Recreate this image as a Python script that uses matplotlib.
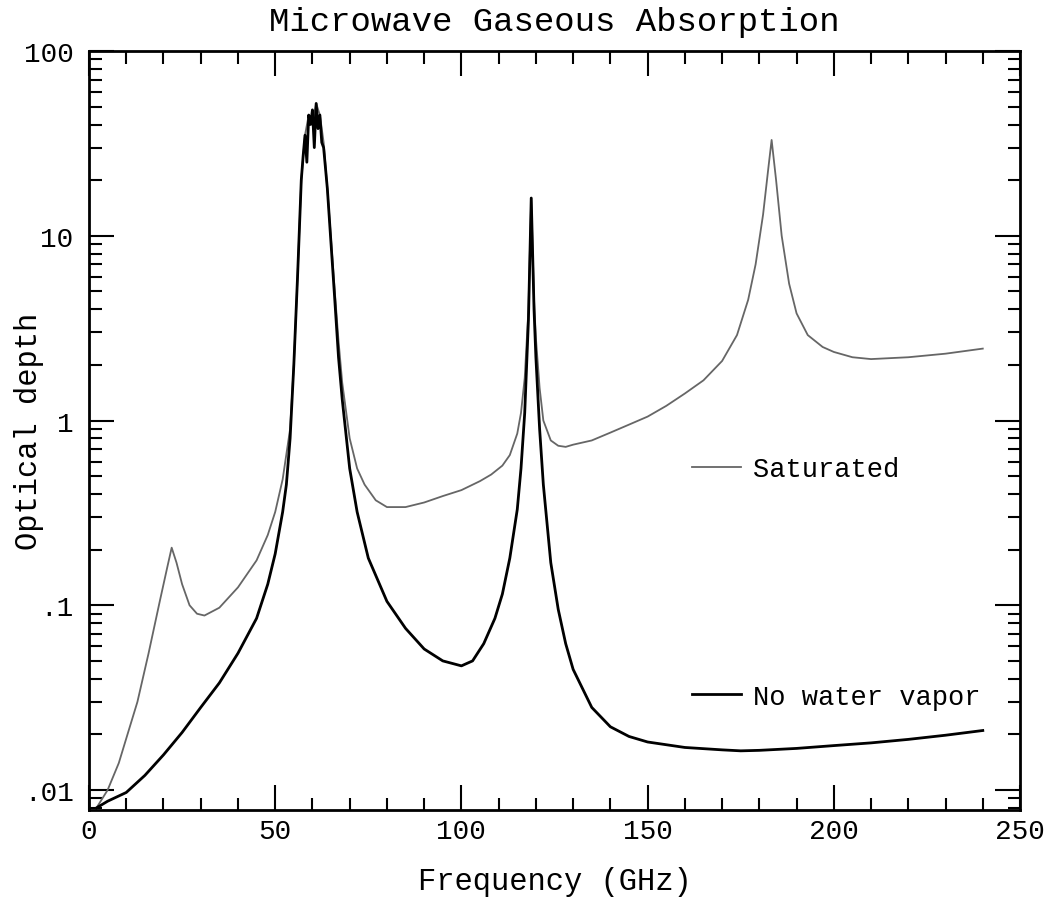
import numpy as np
import matplotlib
matplotlib.use("Agg")
from matplotlib import pyplot as plt
from matplotlib.ticker import LogLocator, FixedLocator, MultipleLocator, FuncFormatter

plt.rcParams['font.family'] = ['Liberation Mono', 'DejaVu Sans Mono']

# no water vapor (oxygen only)
dry_freq = [2, 5, 10, 15, 20, 25, 30, 35, 40, 45, 48, 50, 52, 53, 54, 55, 56, 57,
            57.5, 58, 58.5, 59, 59.5, 60, 60.5, 61, 61.5, 62, 62.5, 63, 64, 65, 66,
            67, 68, 70, 72, 75, 80, 85, 90, 95, 100, 103, 106, 109, 111, 113, 115,
            116, 117, 118, 118.75, 119.5, 120, 121, 122, 124, 126, 128, 130, 135,
            140, 145, 150, 160, 170, 175, 180, 190, 200, 210, 220, 230, 240]
dry_tau = [0.0080, 0.0087, 0.0097, 0.0120, 0.0155, 0.0205, 0.028, 0.038, 0.055,
           0.085, 0.13, 0.19, 0.32, 0.45, 0.8, 2.0, 6.0, 20,
           27, 35, 25, 45, 40, 48, 30, 52, 38, 45, 32, 30, 18, 9, 4.5,
           2.2, 1.3, 0.55, 0.32, 0.18, 0.105, 0.075, 0.058, 0.05, 0.047, 0.05,
           0.062, 0.085, 0.115, 0.18, 0.33, 0.55, 1.1, 3.5, 16, 4.0, 2.2, 0.9,
           0.45, 0.17, 0.095, 0.062, 0.045, 0.028, 0.022, 0.0195, 0.0182, 0.0170,
           0.0165, 0.0163, 0.0164, 0.0168, 0.0174, 0.0180, 0.0188, 0.0198, 0.0210]

# saturated atmosphere
wet_freq = [2, 5, 8, 10, 13, 16, 19, 21, 22.2, 23.5, 25, 27, 29, 31, 35, 40, 45,
            48, 50, 52, 54, 55, 56, 57, 58, 59, 60, 61, 62, 63, 64, 65, 66, 67,
            68, 70, 72, 74, 77, 80, 85, 90, 95, 100, 105, 108, 111, 113, 115, 116,
            117, 118, 118.75, 119.5, 120, 121, 122, 124, 126, 128, 130, 135, 140,
            145, 150, 155, 160, 165, 170, 174, 177, 179, 181, 182.5, 183.3, 184.5,
            186, 188, 190, 193, 197, 200, 205, 210, 220, 230, 240]
wet_tau = [0.0080, 0.0100, 0.014, 0.019, 0.030, 0.055, 0.105, 0.16, 0.205, 0.17,
           0.13, 0.10, 0.09, 0.088, 0.097, 0.125, 0.175, 0.24, 0.32, 0.48, 0.9,
           2.0, 6.0, 20, 35, 45, 40, 52, 45, 32, 18, 9.5, 5.0, 2.7,
           1.6, 0.8, 0.55, 0.45, 0.37, 0.34, 0.34, 0.36, 0.39, 0.42, 0.47, 0.51,
           0.57, 0.65, 0.85, 1.1, 1.7, 4.0, 16, 4.5, 2.8, 1.5, 1.0, 0.78, 0.73,
           0.72, 0.74, 0.78, 0.86, 0.95, 1.05, 1.2, 1.4, 1.65, 2.1, 2.9, 4.5, 7.0,
           13, 24, 33, 20, 10, 5.5, 3.8, 2.9, 2.5, 2.35, 2.2, 2.15, 2.2, 2.3, 2.45]

fig = plt.figure(figsize=(10.52, 9.04), dpi=100)
ax = fig.add_axes([0.0846, 0.1029, 0.8850, 0.8396])

wet_line, = ax.plot(wet_freq, wet_tau, color='#666666', lw=1.3, label='Saturated')
dry_line, = ax.plot(dry_freq, dry_tau, color='black', lw=2.0, label='No water vapor')

ax.set_yscale('log')
ax.set_xlim(0, 250)
ax.set_ylim(0.0078, 100)

ax.xaxis.set_major_locator(MultipleLocator(50))
ax.xaxis.set_minor_locator(MultipleLocator(10))
ax.yaxis.set_major_locator(FixedLocator([0.01, 0.1, 1, 10, 100]))
ax.yaxis.set_minor_locator(LogLocator(base=10, subs=np.arange(2, 10)))


def ylab(v, pos):
    return {0.01: '.01', 0.1: '.1', 1: '1', 10: '10', 100: '100'}.get(round(v, 4), '')


ax.yaxis.set_major_formatter(FuncFormatter(ylab))
ax.yaxis.set_minor_formatter(FuncFormatter(lambda v, p: ''))

ax.tick_params(which='both', direction='in', top=True, right=True, width=1.5,
               labelsize=20)
ax.tick_params(axis='x', which='both', pad=6)
ax.tick_params(axis='y', which='both', pad=11)
ax.tick_params(which='major', length=18)
ax.tick_params(which='minor', length=9)
for s in ax.spines.values():
    s.set_linewidth(2)

ax.set_title('Microwave Gaseous Absorption', fontsize=24.5, pad=15)
ax.set_xlabel('Frequency (GHz)', fontsize=22, va='center')
ax.xaxis.set_label_coords(0.5, -0.093)
ax.set_ylabel('Optical depth', fontsize=22, va='center')
ax.yaxis.set_label_coords(-0.064, 0.5)

leg1 = ax.legend(handles=[wet_line], loc='center left', bbox_to_anchor=(0.622, 0.449),
                 frameon=False, fontsize=19.5, handlelength=1.8, handletextpad=0.45)
ax.add_artist(leg1)
ax.legend(handles=[dry_line], loc='center left', bbox_to_anchor=(0.622, 0.149),
          frameon=False, fontsize=19.5, handlelength=1.8, handletextpad=0.45)

fig.savefig('out.png', dpi=100)
